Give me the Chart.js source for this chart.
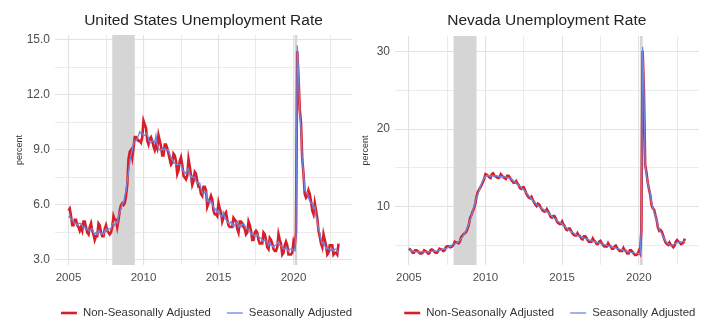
<!DOCTYPE html>
<html>
<head>
<meta charset="utf-8">
<script src="https://cdn.jsdelivr.net/npm/chart.js@4.4.0/dist/chart.umd.min.js"></script>
<style>
  html, body { margin: 0; padding: 0; background: #fff; }
  #wrap { position: relative; width: 720px; height: 331px; }
  canvas { position: absolute; top: 0; }
</style>
</head>
<body>
<div id="wrap">
  <canvas id="us-chart" width="360" height="331" style="left:0"></canvas>
  <canvas id="nv-chart" width="360" height="331" style="left:360px"></canvas>
</div>
<script>
// monthly series, Jan 2005 .. Jan 2023
var startYear = 2005;

var usNSA = [
  5.7,5.8,5.4,4.9,4.9,5.2,5.2,4.9,4.8,4.6,4.8,4.6,
  5.1,5.1,4.8,4.5,4.4,4.8,5.0,4.6,4.4,4.1,4.3,4.3,
  5.0,4.9,4.5,4.3,4.3,4.7,4.9,4.6,4.5,4.4,4.5,4.8,
  5.4,5.2,5.2,4.8,5.2,5.7,6.0,6.1,6.0,6.1,6.5,7.1,
  8.5,8.9,9.0,8.6,9.1,9.7,9.7,9.6,9.5,9.5,9.4,9.7,
  10.6,10.4,10.2,9.5,9.3,9.6,9.7,9.5,9.2,9.0,9.3,9.1,
  9.8,9.5,9.2,8.7,8.7,9.3,9.3,9.1,8.8,8.5,8.2,8.3,
  8.8,8.7,8.4,7.7,7.9,8.4,8.6,8.2,7.6,7.5,7.4,7.6,
  8.5,8.1,7.6,7.1,7.3,7.8,7.7,7.3,7.0,7.0,6.6,6.5,
  7.0,7.0,6.8,5.9,6.1,6.3,6.5,6.3,5.7,5.5,5.5,5.4,
  6.1,5.8,5.6,5.1,5.3,5.5,5.6,5.2,4.9,4.8,4.8,4.8,
  5.3,5.2,5.1,4.7,4.5,5.1,5.1,5.0,4.8,4.7,4.4,4.5,
  5.1,4.9,4.6,4.1,4.1,4.5,4.6,4.5,4.1,3.9,3.9,3.9,
  4.5,4.4,4.1,3.7,3.6,4.2,4.1,3.9,3.6,3.5,3.5,3.7,
  4.4,4.1,3.9,3.3,3.4,3.8,4.0,3.8,3.3,3.3,3.3,3.4,
  4.0,3.8,4.5,14.4,13.0,11.2,10.5,8.5,7.7,6.6,6.4,6.5,
  6.8,6.6,6.2,5.7,5.5,6.1,5.7,5.3,4.6,4.3,3.9,3.7,
  4.4,4.1,3.8,3.3,3.4,3.8,3.8,3.8,3.3,3.4,3.4,3.3,
  3.9
];

var usSA = [
  5.3,5.4,5.2,5.2,5.1,5.0,5.0,4.9,5.0,5.0,5.0,4.9,
  4.7,4.8,4.7,4.7,4.6,4.6,4.7,4.7,4.5,4.4,4.5,4.4,
  4.6,4.5,4.4,4.5,4.4,4.6,4.7,4.6,4.7,4.7,4.7,5.0,
  5.0,4.9,5.1,5.0,5.4,5.6,5.8,6.1,6.1,6.5,6.8,7.3,
  7.8,8.3,8.7,9.0,9.4,9.5,9.5,9.6,9.8,10.0,9.9,9.9,
  9.8,9.8,9.9,9.9,9.6,9.4,9.4,9.5,9.5,9.4,9.8,9.3,
  9.1,9.0,9.0,9.1,9.0,9.1,9.0,9.0,9.0,8.8,8.6,8.5,
  8.3,8.3,8.2,8.2,8.2,8.2,8.2,8.0,7.8,7.8,7.7,7.9,
  8.0,7.7,7.5,7.6,7.5,7.5,7.3,7.2,7.2,7.2,6.9,6.7,
  6.6,6.7,6.7,6.2,6.3,6.1,6.2,6.1,5.9,5.7,5.8,5.6,
  5.7,5.5,5.4,5.4,5.6,5.3,5.2,5.1,5.0,5.0,5.1,5.0,
  4.8,4.9,5.0,5.1,4.8,4.9,4.8,4.9,5.0,4.9,4.7,4.7,
  4.7,4.6,4.4,4.4,4.4,4.3,4.3,4.4,4.3,4.2,4.2,4.1,
  4.0,4.1,4.0,4.0,3.8,4.0,3.8,3.8,3.7,3.8,3.8,3.9,
  4.0,3.8,3.8,3.7,3.6,3.6,3.7,3.6,3.5,3.6,3.6,3.6,
  3.5,3.5,4.4,14.7,13.2,11.0,10.2,8.4,7.8,6.8,6.7,6.7,
  6.4,6.2,6.1,6.1,5.8,5.9,5.4,5.1,4.7,4.5,4.1,3.9,
  4.0,3.8,3.6,3.7,3.6,3.6,3.5,3.6,3.5,3.6,3.6,3.5,
  3.4
];

var nvNSA = [
  4.6,4.5,4.3,4.1,4.1,4.4,4.4,4.3,4.1,4.0,4.0,4.1,
  4.4,4.3,4.2,4.0,4.0,4.4,4.5,4.4,4.2,4.1,4.1,4.3,
  4.6,4.5,4.5,4.3,4.4,4.8,4.9,4.9,4.8,4.8,4.9,5.1,
  5.5,5.4,5.4,5.3,5.5,6.1,6.3,6.5,6.6,6.8,7.2,7.7,
  8.6,8.9,9.4,9.8,10.4,11.3,11.9,12.2,12.5,12.8,13.2,13.6,
  14.2,14.1,14.0,13.8,13.7,14.2,14.3,14.0,13.9,13.8,13.7,13.8,
  14.2,14.0,13.8,13.7,13.6,14.0,14.0,13.8,13.5,13.3,13.1,13.1,
  13.3,13.0,12.8,12.4,12.3,12.5,12.5,12.1,11.7,11.4,11.2,11.1,
  11.3,10.9,10.6,10.3,10.1,10.4,10.3,10.0,9.7,9.5,9.4,9.4,
  9.7,9.4,9.1,8.7,8.6,8.8,8.8,8.5,8.1,7.9,7.8,7.8,
  8.1,7.7,7.5,7.1,7.0,7.2,7.2,6.9,6.6,6.4,6.3,6.3,
  6.6,6.3,6.2,5.9,5.8,6.2,6.2,6.0,5.7,5.5,5.5,5.5,
  5.9,5.6,5.5,5.2,5.2,5.5,5.6,5.3,5.1,4.9,4.9,4.9,
  5.3,5.0,4.9,4.6,4.6,4.9,5.0,4.7,4.5,4.3,4.3,4.3,
  4.7,4.4,4.3,4.0,4.0,4.4,4.4,4.2,4.0,3.8,3.8,3.9,
  4.3,4.0,7.0,30.1,25.0,15.4,14.4,13.1,12.3,11.5,10.2,9.8,
  9.6,8.9,8.3,7.3,6.9,7.0,6.8,6.3,5.8,5.4,5.2,5.1,
  5.4,5.1,5.0,4.8,5.0,5.5,5.7,5.5,5.4,5.2,5.3,5.4,
  5.9
];

var nvSA = [
  4.4,4.4,4.3,4.3,4.3,4.2,4.2,4.2,4.2,4.2,4.2,4.2,
  4.2,4.2,4.2,4.2,4.2,4.2,4.3,4.3,4.3,4.3,4.3,4.4,
  4.4,4.4,4.5,4.5,4.6,4.6,4.7,4.8,4.9,5.0,5.1,5.2,
  5.2,5.3,5.4,5.5,5.7,5.9,6.1,6.4,6.7,7.0,7.4,7.8,
  8.3,8.8,9.4,10.0,10.6,11.1,11.6,12.1,12.6,13.0,13.4,13.7,
  13.9,14.0,14.0,14.0,13.9,14.0,14.0,13.9,14.0,14.0,13.9,13.9,
  13.9,13.9,13.8,13.9,13.8,13.8,13.7,13.7,13.6,13.5,13.3,13.2,
  13.0,12.9,12.8,12.6,12.5,12.3,12.2,12.0,11.8,11.6,11.4,11.2,
  11.0,10.8,10.6,10.5,10.3,10.2,10.0,9.9,9.8,9.7,9.6,9.5,
  9.4,9.3,9.1,8.9,8.8,8.6,8.5,8.4,8.2,8.1,8.0,7.9,
  7.8,7.6,7.5,7.3,7.2,7.0,6.9,6.8,6.7,6.6,6.5,6.4,
  6.3,6.2,6.2,6.1,6.0,6.0,5.9,5.9,5.8,5.7,5.7,5.6,
  5.6,5.5,5.5,5.4,5.4,5.3,5.3,5.2,5.2,5.1,5.1,5.0,
  5.0,4.9,4.9,4.8,4.8,4.7,4.7,4.6,4.6,4.5,4.5,4.4,
  4.4,4.3,4.3,4.2,4.2,4.2,4.1,4.1,4.1,4.0,4.0,4.0,
  4.0,3.9,7.2,30.6,25.3,15.2,14.1,13.0,12.4,11.7,10.4,9.9,
  9.3,8.8,8.3,7.6,7.1,6.8,6.5,6.2,5.9,5.6,5.4,5.2,
  5.1,5.0,5.0,5.1,5.2,5.3,5.4,5.4,5.5,5.4,5.5,5.5,
  5.6
];

// recession bands (decimal years)
var recessions = [[2007.92, 2009.42], [2020.08, 2020.25]];

// axis breaks
var xTicks = [2005, 2007.5, 2010, 2012.5, 2015, 2017.5, 2020, 2022.5];
var xLabels = [2005, 2010, 2015, 2020];
var usYTicks = [3, 4.5, 6, 7.5, 9, 10.5, 12, 13.5, 15];
var usYLabels = [3, 6, 9, 12, 15];
var nvYTicks = [5, 10, 15, 20, 25, 30];
var nvYLabels = [10, 20, 30];

var months = usNSA.map(function(d, i) { return startYear + i / 12; });

function toPoints(vals) {
  return vals.map(function(v, i) { return {x: months[i], y: v}; });
}

var FONT = "'Liberation Sans', Arial, sans-serif";

// grey recession rectangles behind the lines
var shadePlugin = {
  id: 'shade',
  beforeDatasetsDraw: function(chart) {
    var ctx = chart.ctx, xs = chart.scales.x, a = chart.chartArea;
    ctx.save();
    ctx.fillStyle = '#d5d5d5';
    recessions.forEach(function(r) {
      var x0 = xs.getPixelForValue(r[0]), x1 = xs.getPixelForValue(r[1]);
      ctx.fillRect(x0, a.top, x1 - x0, a.bottom - a.top);
    });
    ctx.restore();
  }
};

// one-row legend under the panel (the built-in one wraps in this width)
var keyPlugin = {
  id: 'key',
  afterDraw: function(chart) {
    var ctx = chart.ctx, a = chart.chartArea;
    var items = chart.data.datasets.slice().reverse();
    var lineW = 16, gapText = 6, gapItem = 16;
    ctx.save();
    ctx.font = "11.4px " + FONT;
    var total = 0;
    items.forEach(function(d, i) {
      total += lineW + gapText + ctx.measureText(d.label).width + (i ? gapItem : 0);
    });
    var x = (a.left + a.right) / 2 + 3 - total / 2, y = 313;
    ctx.textBaseline = 'middle';
    items.forEach(function(d) {
      ctx.strokeStyle = d.borderColor;
      ctx.lineWidth = d.borderWidth;
      ctx.beginPath();
      ctx.moveTo(x, y);
      ctx.lineTo(x + lineW, y);
      ctx.stroke();
      x += lineW + gapText;
      ctx.fillStyle = '#333';
      ctx.fillText(d.label, x, y);
      x += ctx.measureText(d.label).width + gapItem;
    });
    ctx.restore();
  }
};

function makeChart(id, title, nsa, sa, cfg) {
  var ctx = document.getElementById(id).getContext('2d');
  return new Chart(ctx, {
    type: 'line',
    data: {
      datasets: [
        { label: 'Seasonally Adjusted', data: toPoints(sa), borderColor: '#6f86e2',
          borderWidth: 1.3, pointRadius: 0, tension: 0 },
        { label: 'Non-Seasonally Adjusted', data: toPoints(nsa), borderColor: '#d81e28',
          borderWidth: 2.6, pointRadius: 0, tension: 0 }
      ]
    },
    options: {
      responsive: false,
      animation: false,
      devicePixelRatio: 1,
      layout: { padding: { left: 0, right: cfg.padRight, top: 0, bottom: 40.7 } },
      plugins: {
        tooltip: { enabled: false },
        legend: { display: false },
        title: {
          display: true, text: title, fullSize: false, color: '#222',
          font: { family: FONT, size: 15.5, weight: 'normal' },
          padding: { top: 11, bottom: cfg.titleBottom }
        }
      },
      scales: {
        x: {
          type: 'linear', min: 2004.1, max: 2023.9,
          afterBuildTicks: function(s) { s.ticks = xTicks.map(function(v) { return {value: v}; }); },
          afterFit: function(s) { s.height = 25.3; },
          border: { display: false },
          grid: {
            drawTicks: false, color: '#e2e2e2',
            lineWidth: function(c) { return c.tick && xLabels.indexOf(c.tick.value) >= 0 ? 1.1 : 0.7; }
          },
          ticks: {
            autoSkip: false, maxRotation: 0, padding: 6, color: '#4d4d4d',
            font: { family: FONT, size: 11.5 },
            callback: function(v) { return xLabels.indexOf(v) >= 0 ? String(v) : ''; }
          }
        },
        y: {
          min: cfg.yMin, max: cfg.yMax,
          afterBuildTicks: function(s) { s.ticks = cfg.yTicks.map(function(v) { return {value: v}; }); },
          afterFit: function(s) { s.width = cfg.yWidth; },
          border: { display: false },
          grid: {
            drawTicks: false, color: '#e2e2e2',
            lineWidth: function(c) { return c.tick && cfg.yLabels.indexOf(c.tick.value) >= 0 ? 1.1 : 0.7; }
          },
          title: {
            display: true, text: 'percent', color: '#333',
            font: { family: FONT, size: 9 },
            padding: { top: cfg.titlePad, bottom: 0 }
          },
          ticks: {
            autoSkip: false, padding: 5, color: '#4d4d4d',
            font: { family: FONT, size: 12 },
            callback: function(v) { return cfg.yLabels.indexOf(v) >= 0 ? cfg.fmt(v) : ''; }
          }
        }
      }
    },
    plugins: [shadePlugin, keyPlugin]
  });
}

makeChart('us-chart', 'United States Unemployment Rate', usNSA, usSA, {
  yMin: 2.73, yMax: 15.27, yTicks: usYTicks, yLabels: usYLabels, yWidth: 55,
  padRight: 8, titleBottom: 5.4, titlePad: 14,
  fmt: function(v) { return v.toFixed(1); }
});

makeChart('nv-chart', 'Nevada Unemployment Rate', nvNSA, nvSA, {
  yMin: 2.5, yMax: 32.0, yTicks: nvYTicks, yLabels: nvYLabels, yWidth: 35,
  padRight: 21.4, titleBottom: 6.4, titlePad: 0,
  fmt: function(v) { return String(v); }
});
</script>
</body>
</html>
